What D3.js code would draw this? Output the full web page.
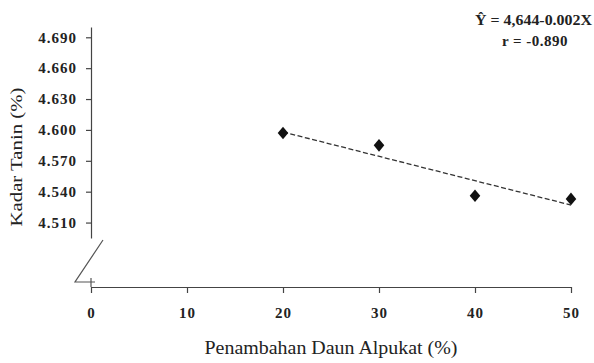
<!DOCTYPE html>
<html>
<head>
<meta charset="utf-8">
<script src="https://cdn.jsdelivr.net/npm/d3@7"></script>
<style>
  body { margin: 0; background: #fff; }
  text { font-family: "Liberation Serif", "Times New Roman", serif; fill: #222; }
</style>
</head>
<body>
<div id="chart"></div>
<script>
// data
const dosis = [20, 30, 40, 50];
const tanin = [4.597, 4.585, 4.536, 4.533];
const trendX = [20, 50];
const trendY = [4.598, 4.527];
const yTicks = [4.510, 4.540, 4.570, 4.600, 4.630, 4.660, 4.690];
const xTicks = [0, 10, 20, 30, 40, 50];

const W = 594, H = 363;

const svg = d3.select("#chart")
    .append("svg")
    .attr("width", W)
    .attr("height", H);

// scales
const x = d3.scaleLinear().domain([0, 50]).range([91, 571]);
const y = d3.scaleLinear().domain([4.495, 4.700]).range([238, 27]);
const xAxisY = 287;

// Y axis (upper part)
const yAxis = svg.append("g")
    .attr("transform", "translate(91,0)")
    .call(d3.axisLeft(y).tickValues(yTicks).tickFormat(d3.format(".3f"))
        .tickSize(5).tickSizeOuter(0).tickPadding(9));
yAxis.select(".domain").attr("stroke", "#444").attr("stroke-width", 1.2);
yAxis.selectAll(".tick line").attr("stroke", "#444").attr("stroke-width", 1.2);
yAxis.selectAll("text")
    .style("font-family", "Liberation Serif, serif")
    .style("font-size", "15px")
    .style("font-weight", "bold")
    .style("letter-spacing", "1px")
    .attr("fill", "#333");

// X axis
const xAxis = svg.append("g")
    .attr("transform", `translate(0,${xAxisY})`)
    .call(d3.axisBottom(x).tickValues(xTicks).tickSize(6).tickSizeOuter(0).tickPadding(14));
xAxis.select(".domain").attr("stroke", "#444").attr("stroke-width", 1.2);
xAxis.selectAll(".tick line").attr("stroke", "#444").attr("stroke-width", 1.2);
xAxis.selectAll("text")
    .style("font-family", "Liberation Serif, serif")
    .style("font-size", "15px")
    .style("font-weight", "bold")
    .style("letter-spacing", "1px")
    .attr("fill", "#333");

// axis break at the bottom of the y axis
const brk = svg.append("g").attr("stroke", "#555").attr("stroke-width", 1.2).attr("fill", "none");
brk.append("path").attr("d", `M103,240 L75,282 L95,282`);
brk.append("path").attr("d", `M91,278 L91,${xAxisY}`);

// trend line
const line = d3.line()
    .x((d, i) => x(trendX[i]))
    .y(d => y(d));
svg.append("path")
    .datum(trendY)
    .attr("fill", "none")
    .attr("stroke", "#333")
    .attr("stroke-width", 1.3)
    .attr("stroke-dasharray", "5,2.5")
    .attr("d", line);

// points
svg.selectAll(".pt")
    .data(dosis)
    .enter()
    .append("path")
    .attr("class", "pt")
    .attr("transform", (d, i) => `translate(${x(d)},${y(tanin[i])}) scale(1.45,1)`)
    .attr("d", d3.symbol().type(d3.symbolDiamond).size(46))
    .attr("fill", "#111");

// equation
svg.append("text")
    .attr("x", 475)
    .attr("y", 25)
    .attr("textLength", 117)
    .attr("lengthAdjust", "spacingAndGlyphs")
    .style("font-size", "15px")
    .style("font-weight", "bold")
    .text("\u0176 = 4,644-0.002X");
svg.append("text")
    .attr("x", 535)
    .attr("y", 46)
    .attr("text-anchor", "middle")
    .style("font-size", "15px")
    .style("font-weight", "bold")
    .style("letter-spacing", "0.5px")
    .text("r = -0.890");

// axis titles
svg.append("text")
    .attr("x", 331)
    .attr("y", 354)
    .attr("text-anchor", "middle")
    .attr("textLength", 253)
    .attr("lengthAdjust", "spacingAndGlyphs")
    .style("font-size", "18px")
    .text("Penambahan Daun Alpukat (%)");

svg.append("text")
    .attr("transform", "translate(22,157) rotate(-90)")
    .attr("text-anchor", "middle")
    .attr("textLength", 139)
    .attr("lengthAdjust", "spacingAndGlyphs")
    .style("font-size", "17px")
    .text("Kadar Tanin (%)");
</script>
</body>
</html>
